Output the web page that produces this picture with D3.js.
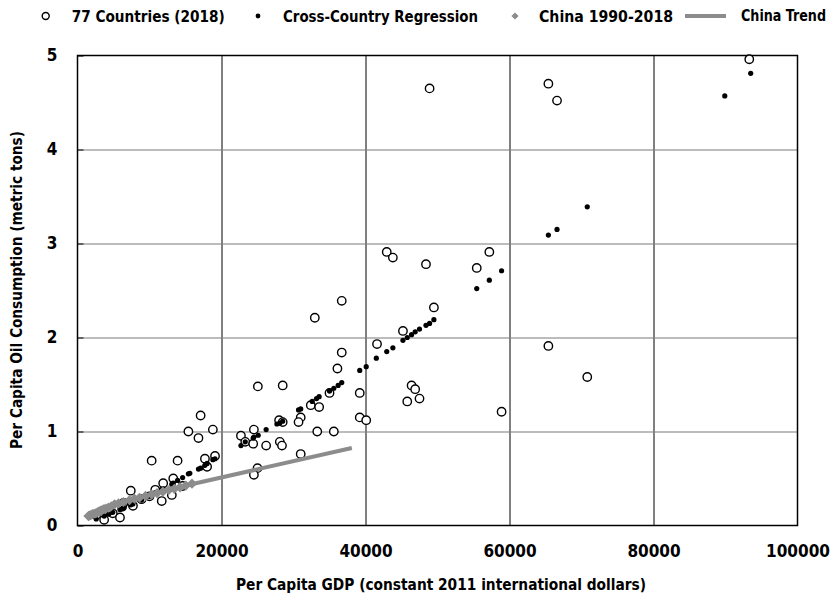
<!DOCTYPE html>
<html lang="en">
<head>
    <meta charset="UTF-8">
    <title>Per Capita Oil Consumption vs GDP</title>
    <script src="https://d3js.org/d3.v7.min.js"></script>
    <style>
        body {
            margin: 0;
            background: white;
        }

        svg text {
            font-family: "Liberation Sans Narrow", "DejaVu Sans Condensed", "Arial Narrow", sans-serif;
            font-weight: bold;
            fill: #000;
        }

        .grid-x line { stroke: #808080; stroke-width: 2; }
        .grid-y line { stroke: #a6a6a6; stroke-width: 1.5; }
        .grid-x path, .grid-y path { display: none; }
        .axis path { display: none; }
        .axis line { stroke: #444; stroke-width: 1.5; }
        .axis text { font-size: 17px; }
    </style>
</head>
<body>
    <div id="chart"></div>

    <script>
        // 77 countries, 2018 (GDP per capita, oil per capita in metric tons)
        const countryGdp = [93300, 48900, 65400, 66600, 42950, 43800, 48400, 57200, 55450, 49500,
            45200, 65400, 70800, 46400, 46900, 45800, 47500, 58900, 36700, 32960,
            41600, 36700, 36100, 35000, 39200, 25050, 28500, 32400, 33560, 31000,
            30700, 39200, 40100, 33300, 35600, 17100, 18800, 22700, 24500, 23300,
            24400, 26200, 28100, 28400, 28000, 28500, 31000, 25000, 24500, 15400,
            16800, 10300, 13900, 17700, 19100, 18000, 13300, 11900, 13100, 11700,
            10800, 7400, 7700, 4900, 3700, 5900, 6400, 6200, 2600, 4300,
            8900, 10000, 14600];
        const countryOil = [4.96, 4.65, 4.70, 4.52, 2.91, 2.85, 2.78, 2.91, 2.74, 2.32,
            2.07, 1.91, 1.58, 1.49, 1.45, 1.32, 1.35, 1.21, 2.39, 2.21,
            1.93, 1.84, 1.67, 1.41, 1.41, 1.48, 1.49, 1.28, 1.26, 1.15,
            1.10, 1.15, 1.12, 1.00, 1.00, 1.17, 1.02, 0.955, 1.02, 0.89,
            0.87, 0.85, 0.89, 0.85, 1.12, 1.10, 0.76, 0.61, 0.54, 1.00,
            0.93, 0.69, 0.69, 0.71, 0.74, 0.625, 0.50, 0.45, 0.325, 0.26,
            0.38, 0.37, 0.21, 0.13, 0.06, 0.085, 0.24, 0.20, 0.11, 0.15,
            0.28, 0.31, 0.42];

        // cross-country regression fitted values
        const fitGdp = [93500, 89900, 70800, 66600, 65400, 58900, 57200, 55450, 49500, 48900,
            48400, 47500, 46900, 46400, 45800, 45200, 43800, 42950, 41500, 40100,
            39200, 36700, 36200, 35600, 35000, 33560, 33200, 32600, 31000, 30700,
            28500, 28100, 27700, 26200, 25100, 24500, 24400, 23300, 22700, 19100,
            18800, 18000, 17700, 17100, 16800, 15600, 15400, 13900, 13300, 13100,
            11900, 11700, 10800, 10300, 7700, 7400, 6400, 5900, 4900, 3700,
            6200, 2600, 4300, 8900, 10000, 14600];
        const fitOil = [4.81, 4.57, 3.39, 3.15, 3.09, 2.71, 2.61, 2.52, 2.19, 2.15,
            2.13, 2.09, 2.06, 2.03, 2.00, 1.97, 1.89, 1.85, 1.78, 1.69,
            1.65, 1.52, 1.49, 1.46, 1.43, 1.37, 1.35, 1.32, 1.24, 1.23,
            1.11, 1.09, 1.08, 1.02, 0.96, 0.94, 0.93, 0.89, 0.85, 0.71,
            0.70, 0.66, 0.64, 0.61, 0.60, 0.555, 0.55, 0.48, 0.45, 0.44,
            0.39, 0.385, 0.35, 0.33, 0.23, 0.22, 0.19, 0.17, 0.14, 0.10,
            0.18, 0.07, 0.12, 0.27, 0.31, 0.51];

        // China 1990-2018
        const chinaYears = d3.range(1990, 2019);
        const chinaGdp = [1520, 1640, 1850, 2080, 2320, 2550, 2780, 3000, 3200, 3420,
            3680, 3960, 4300, 4700, 5150, 5700, 6380, 7230, 7900, 8600,
            9450, 10300, 11050, 11850, 12650, 13450, 14250, 15050, 15900];
        const chinaOil = [0.10, 0.105, 0.11, 0.12, 0.125, 0.13, 0.14, 0.15, 0.155, 0.165,
            0.175, 0.18, 0.19, 0.205, 0.225, 0.235, 0.25, 0.27, 0.285, 0.295,
            0.315, 0.33, 0.345, 0.36, 0.375, 0.39, 0.405, 0.425, 0.445];

        // China trend
        const trendGdp = [12000, 38100];
        const trendOil = [0.373, 0.825];

        const xTicks = [0, 20000, 40000, 60000, 80000, 100000];
        const yTicks = [0, 1, 2, 3, 4, 5];

        const width = 839, height = 601;
        const margin = { top: 55.5, right: 41.5, bottom: 75.5, left: 77.5 };
        const chartWidth = width - margin.left - margin.right;
        const chartHeight = height - margin.top - margin.bottom;

        const svg = d3.select("#chart").append("svg")
            .attr("width", width)
            .attr("height", height);

        const g = svg.append("g")
            .attr("transform", `translate(${margin.left}, ${margin.top})`);

        const x = d3.scaleLinear().domain([0, 100000]).range([0, chartWidth]);
        const y = d3.scaleLinear().domain([0, 5]).range([chartHeight, 0]);

        // gridlines
        g.append("g")
            .attr("class", "grid-y")
            .call(d3.axisLeft(y).tickValues(yTicks.slice(1, -1)).tickSize(-chartWidth).tickFormat(""));
        g.append("g")
            .attr("class", "grid-x")
            .attr("transform", `translate(0, ${chartHeight})`)
            .call(d3.axisBottom(x).tickValues(xTicks.slice(1, -1)).tickSize(-chartHeight).tickFormat(""));

        // axes (inner ticks)
        g.append("g")
            .attr("class", "axis")
            .call(d3.axisLeft(y).tickValues(yTicks).tickSizeInner(-6).tickSizeOuter(0).tickPadding(20).tickFormat(d3.format("d")));
        g.append("g")
            .attr("class", "axis")
            .attr("transform", `translate(0, ${chartHeight})`)
            .call(d3.axisBottom(x).tickValues(xTicks).tickSizeInner(0).tickSizeOuter(0).tickPadding(19).tickFormat(d3.format("d")));

        // frame
        g.append("rect")
            .attr("width", chartWidth)
            .attr("height", chartHeight)
            .attr("fill", "none")
            .attr("stroke", "#000")
            .attr("stroke-width", 1.5);

        // 77 countries
        g.selectAll(".country")
            .data(countryGdp)
            .enter().append("circle")
            .attr("class", "country")
            .attr("cx", d => x(d))
            .attr("cy", (d, i) => y(countryOil[i]))
            .attr("r", 4.2)
            .attr("fill", "white")
            .attr("stroke", "#000")
            .attr("stroke-width", 1.4);

        // regression
        g.selectAll(".fit")
            .data(fitGdp)
            .enter().append("circle")
            .attr("class", "fit")
            .attr("cx", d => x(d))
            .attr("cy", (d, i) => y(fitOil[i]))
            .attr("r", 2.6)
            .attr("fill", "#000");

        // China diamonds (rotated squares)
        const diamond = d3.symbol().type(d3.symbolSquare).size(52);
        g.selectAll(".china")
            .data(chinaGdp)
            .enter().append("path")
            .attr("class", "china")
            .attr("d", diamond)
            .attr("transform", (d, i) => `translate(${x(d)}, ${y(chinaOil[i])}) rotate(45)`)
            .attr("fill", "#8c8c8c");

        // China trend
        const line = d3.line()
            .x(d => x(d))
            .y((d, i) => y(trendOil[i]));
        g.append("path")
            .datum(trendGdp)
            .attr("d", line)
            .attr("fill", "none")
            .attr("stroke", "#8c8c8c")
            .attr("stroke-width", 4);

        // axis titles
        svg.append("text")
            .attr("x", 441)
            .attr("y", 590)
            .attr("text-anchor", "middle")
            .attr("font-size", 16)
            .attr("textLength", 410)
            .attr("lengthAdjust", "spacingAndGlyphs")
            .text("Per Capita GDP (constant 2011 international dollars)");

        svg.append("text")
            .attr("transform", "translate(22, 290) rotate(-90)")
            .attr("text-anchor", "middle")
            .attr("font-size", 16)
            .attr("textLength", 318)
            .attr("lengthAdjust", "spacingAndGlyphs")
            .text("Per Capita Oil Consumption (metric tons)");

        // legend
        const legend = svg.append("g").attr("font-size", 16);
        const ly = 16;
        legend.append("circle").attr("cx", 45.7).attr("cy", ly).attr("r", 3.5)
            .attr("fill", "white").attr("stroke", "#000").attr("stroke-width", 1.4);
        legend.append("circle").attr("cx", 258).attr("cy", ly).attr("r", 2.4).attr("fill", "#000");
        legend.append("path").attr("d", d3.symbol().type(d3.symbolSquare).size(26))
            .attr("transform", `translate(515, ${ly}) rotate(45)`).attr("fill", "#8c8c8c");
        legend.append("line").attr("x1", 685).attr("x2", 726).attr("y1", ly).attr("y2", ly)
            .attr("stroke", "#8c8c8c").attr("stroke-width", 4);

        const labels = [
            { text: "77 Countries (2018)", x: 71.7, w: 153, size: 16 },
            { text: "Cross-Country Regression", x: 283, w: 195, size: 16 },
            { text: "China 1990-2018", x: 539, w: 134, size: 16 },
            { text: "China Trend", x: 741, w: 85, size: 15 }
        ];
        labels.forEach(l => {
            legend.append("text")
                .attr("x", l.x)
                .attr("y", ly)
                .attr("dy", "0.36em")
                .attr("font-size", l.size)
                .attr("textLength", l.w)
                .attr("lengthAdjust", "spacingAndGlyphs")
                .text(l.text);
        });
    </script>
</body>
</html>
